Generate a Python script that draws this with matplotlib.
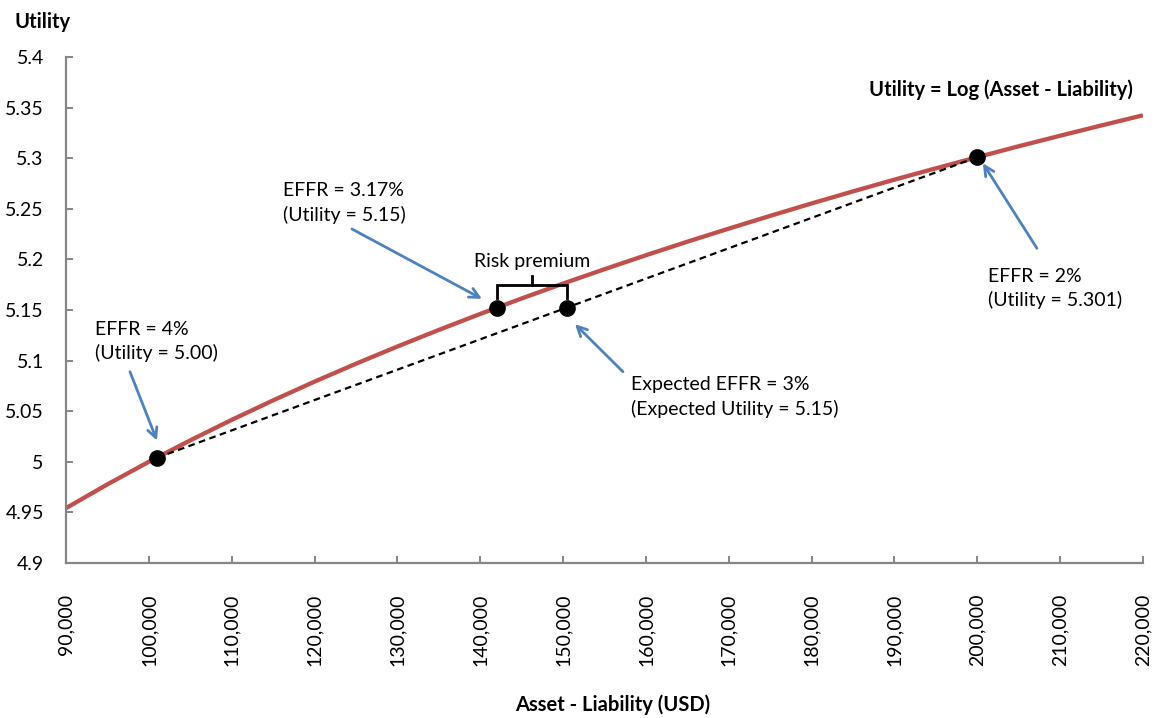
import matplotlib.pyplot as plt
from matplotlib.ticker import FuncFormatter, MultipleLocator

plt.rcParams['font.family'] = ['Lato', 'DejaVu Sans']

# utility curve, read at 5,000 steps
wealth = [90000, 95000, 100000, 105000, 110000, 115000, 120000, 125000,
          130000, 135000, 140000, 145000, 150000, 155000, 160000, 165000,
          170000, 175000, 180000, 185000, 190000, 195000, 200000, 205000,
          210000, 215000, 220000]
utility = [4.9542, 4.9777, 5.0000, 5.0212, 5.0414, 5.0607, 5.0792, 5.0969,
           5.1139, 5.1303, 5.1461, 5.1614, 5.1761, 5.1903, 5.2041, 5.2175,
           5.2304, 5.2430, 5.2553, 5.2672, 5.2788, 5.2900, 5.3010, 5.3118,
           5.3222, 5.3324, 5.3424]

# scenario points
low_x, low_u = 101000, 5.004      # EFFR = 4%
high_x, high_u = 200000, 5.301    # EFFR = 2%
exp_x, exp_u = 150500, 5.152      # expected EFFR = 3%
ce_x, ce_u = 142000, 5.152        # EFFR = 3.17%

red = '#C0504D'
blue = '#4F81BD'
grey = '#868686'

fig = plt.figure(figsize=(11.6, 7.18), dpi=100)
ax = fig.add_axes([0.0569, 0.2159, 0.9284, 0.7047])

ax.plot(wealth, utility, color=red, lw=3.1, solid_capstyle='butt',
        solid_joinstyle='round', zorder=2)
ax.plot([low_x, high_x], [low_u, high_u], color='black', lw=1.6,
        linestyle=(0, (3, 2)), zorder=3)
ax.plot([low_x, ce_x, exp_x, high_x], [low_u, ce_u, exp_u, high_u], 'o',
        color='black', ms=11, zorder=4)

ax.set_xlim(90000, 220000)
ax.set_ylim(4.9, 5.4)
ax.xaxis.set_major_locator(MultipleLocator(10000))
ax.yaxis.set_major_locator(MultipleLocator(0.05))
ax.xaxis.set_major_formatter(FuncFormatter(lambda v, p: f'{v:,.0f}'))
ax.yaxis.set_major_formatter(FuncFormatter(lambda v, p: f'{v:.2f}'.rstrip('0').rstrip('.')))

for s in ['top', 'right']:
    ax.spines[s].set_visible(False)
for s in ['left', 'bottom']:
    ax.spines[s].set_color(grey)
    ax.spines[s].set_linewidth(1.6)
ax.tick_params(axis='both', direction='in', length=5, width=1.4, color=grey,
               labelsize=14)
ax.tick_params(axis='x', rotation=90, pad=22)
ax.tick_params(axis='y', pad=16)

bold = dict(fontsize=14.5, fontweight='bold', va='center')
fig.text(15 / 1160, 1 - 22 / 718, 'Utility', ha='left', **bold)
fig.text(613 / 1160, 1 - 705 / 718, 'Asset - Liability (USD)', ha='center', **bold)
ax.text(218790, 5.3674, 'Utility = Log (Asset - Liability)', ha='right', **bold)

txt = dict(fontsize=14, ha='left', va='center', linespacing=1.4)
ax.text(93440, 5.119, 'EFFR = 4%\n(Utility = 5.00)', **txt)
ax.text(116190, 5.2557, 'EFFR = 3.17%\n(Utility = 5.15)', **txt)
ax.text(158190, 5.064, 'Expected EFFR = 3%\n(Expected Utility = 5.15)', **txt)
ax.text(201290, 5.1708, 'EFFR = 2%\n(Utility = 5.301)', **txt)
ax.text((ce_x + exp_x) / 2, 5.1984, 'Risk premium', fontsize=14,
        ha='center', va='center')

# brace over the risk premium
mid = (ce_x + exp_x) / 2
ax.plot([ce_x, ce_x, exp_x, exp_x], [5.1619, 5.1747, 5.1747, 5.1619],
        color='black', lw=2, solid_joinstyle='miter')
ax.plot([mid, mid], [5.1747, 5.1836], color='black', lw=2)

arrow = dict(arrowstyle='->,head_length=0.7,head_width=0.35', color=blue,
             lw=2, shrinkA=0, shrinkB=0)
ax.annotate('', xy=(100980, 5.021), xytext=(97720, 5.089), arrowprops=arrow)
ax.annotate('', xy=(140210, 5.161), xytext=(124520, 5.230), arrowprops=arrow)
ax.annotate('', xy=(151440, 5.136), xytext=(157230, 5.089), arrowprops=arrow)
ax.annotate('', xy=(200680, 5.295), xytext=(207200, 5.211), arrowprops=arrow)

fig.savefig('out.png', dpi=100)
